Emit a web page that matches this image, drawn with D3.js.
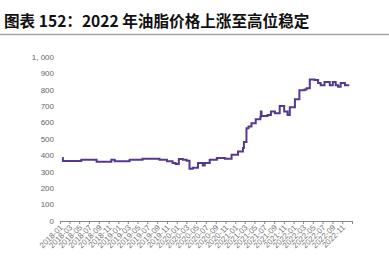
<!DOCTYPE html>
<html>
<head>
<meta charset="utf-8">
<style>
  body { margin: 0; background: #fff; }
  svg { display: block; }
</style>
</head>
<body>
<svg width="389" height="265"></svg>
<script src="https://d3js.org/d3.v7.min.js"></script>
<script>
	const svg = d3.select("svg");
	const margin = { top: 57, right: 37, bottom: 44, left: 60 };
	const width = +svg.attr("width") - margin.left - margin.right;
	const height = +svg.attr("height") - margin.top - margin.bottom;

	const titleText = "图表 152：2022 年油脂价格上涨至高位稳定";

	// step points (date, price index)
	const dates = [
		"2018-01-15", "2018-01-19", "2018-05-14", "2018-08-18", "2018-11-18", "2018-12-09",
		"2019-03-12", "2019-06-01", "2019-09-15", "2019-11-01", "2019-12-06", "2019-12-25",
		"2020-01-14", "2020-02-08", "2020-03-03", "2020-03-21", "2020-04-10", "2020-05-13",
		"2020-06-12", "2020-06-24", "2020-07-25", "2020-09-08", "2020-10-28", "2020-12-09",
		"2021-01-18", "2021-02-18", "2021-02-24", "2021-03-12", "2021-03-25", "2021-04-12",
		"2021-05-09", "2021-06-07", "2021-06-10", "2021-06-14", "2021-07-22", "2021-08-12",
		"2021-09-06", "2021-10-06", "2021-11-03", "2021-11-24", "2021-12-08", "2022-01-09",
		"2022-02-06", "2022-03-10", "2022-03-23", "2022-04-12", "2022-05-12", "2022-06-03",
		"2022-06-19", "2022-07-13", "2022-08-15", "2022-09-03", "2022-09-21", "2022-10-06",
		"2022-10-22", "2022-11-18", "2022-12-15"
	];
	const values = [
		384, 366, 374, 361, 374, 364,
		374, 380, 374, 364, 354, 348,
		378, 374, 368, 318, 324, 354,
		338, 354, 374, 384, 380, 404,
		424, 445, 481, 566, 576, 596,
		620, 636, 667, 640, 647, 667,
		657, 701, 667, 647, 693, 742,
		798, 802, 810, 863, 859, 842,
		828, 848, 828, 848, 828, 818,
		842, 828, 828
	];
	const yTicks = [0, 100, 200, 300, 400, 500, 600, 700, 800, 900, 1000];

	const parse = d3.utcParse("%Y-%m-%d");
	const data = dates.map((d, i) => ({ date: parse(d), value: values[i] }));

	const x = d3.scaleUtc()
		.domain([Date.UTC(2018, 0, 1), Date.UTC(2023, 0, 1)])
		.range([0, width]);
	const y = d3.scaleLinear().domain([0, 1000]).range([height, 0]);

	// title + rule
	svg.append("text")
		.attr("x", 4)
		.attr("y", 27)
		.attr("font-family", "Noto Sans CJK SC")
		.attr("font-weight", "bold")
		.attr("font-size", 15.6)
		.attr("fill", "#111")
		.text(titleText);
	svg.append("line")
		.attr("x1", 0).attr("x2", 389)
		.attr("y1", 34.5).attr("y2", 34.5)
		.attr("stroke", "#a6a6a6")
		.attr("stroke-width", 1.5);

	const g = svg.append("g").attr("transform", "translate(" + margin.left + "," + margin.top + ")");

	// y labels, no axis line
	g.selectAll(".ylab")
		.data(yTicks)
		.join("text")
		.attr("class", "ylab")
		.attr("x", -6)
		.attr("y", (d) => y(d))
		.attr("dy", "0.35em")
		.attr("text-anchor", "end")
		.attr("font-family", "Liberation Sans, Arial, sans-serif")
		.attr("font-size", 8)
		.attr("fill", "#666")
		.text((d) => d3.format(",")(d).replace(",", ", "));

	// x axis
	const xTicks = d3.utcMonth.every(2).range(Date.UTC(2018, 0, 1), Date.UTC(2023, 0, 2));
	const xAxis = g.append("g")
		.attr("transform", "translate(0," + height + ")")
		.call(d3.axisBottom(x).tickValues(xTicks).tickSize(3).tickSizeOuter(0).tickFormat(d3.utcFormat("%Y-%m")));
	xAxis.select(".domain").attr("stroke", "#888");
	xAxis.selectAll(".tick line").attr("stroke", "#888");
	xAxis.selectAll(".tick text")
		.filter((d) => d >= Date.UTC(2023, 0, 1))
		.remove();
	xAxis.selectAll(".tick text")
		.attr("font-family", "Liberation Sans, Arial, sans-serif")
		.attr("font-size", 8)
		.attr("fill", "#777")
		.attr("text-anchor", "end")
		.attr("dy", null)
		.attr("y", 0)
		.attr("transform", "translate(3,7) rotate(-45)");

	// price line
	const line = d3.line()
		.x((d) => x(d.date))
		.y((d) => y(d.value))
		.curve(d3.curveStepAfter);
	g.append("path")
		.datum(data)
		.attr("fill", "none")
		.attr("stroke", "#54398f")
		.attr("stroke-width", 2)
		.attr("d", line);
</script>
</body>
</html>
